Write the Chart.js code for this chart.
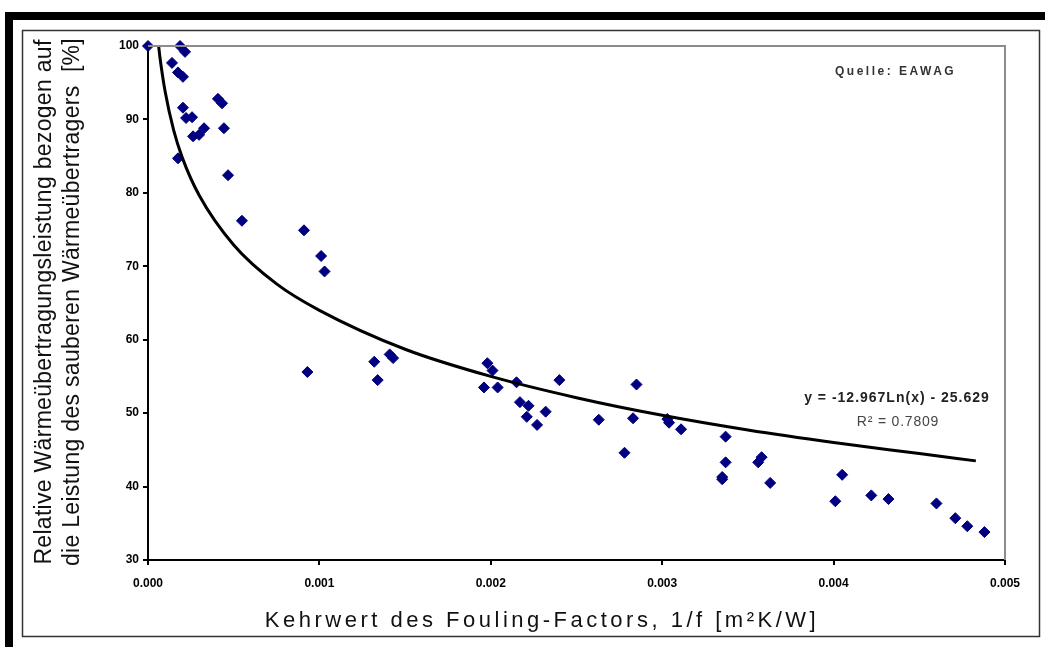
<!DOCTYPE html>
<html>
<head>
<meta charset="utf-8">
<title>Fouling-Factor</title>
<script src="https://cdn.jsdelivr.net/npm/chart.js@4/dist/chart.umd.min.js"></script>
<style>
  html, body { margin: 0; padding: 0; background: #fff; }
  #wrap { width: 1045px; height: 647px; }
</style>
</head>
<body>
<div id="wrap"><canvas id="chart" width="1045" height="647"></canvas></div>
<script>
// Measured points: 1/f [m2K/W] and relative performance [%]
const foulingX = [
  0, 0.00014, 0.000187, 0.000216, 0.000175, 0.000204, 0.000204, 0.000222, 0.000257, 0.000263,
  0.000298, 0.000327, 0.000175, 0.000408, 0.000432, 0.000443, 0.000467, 0.000548, 0.00091, 0.00101,
  0.00103, 0.00093, 0.00132, 0.00134, 0.00141, 0.00143, 0.00198, 0.00201, 0.00196, 0.00204,
  0.00215, 0.0024, 0.00217, 0.00222, 0.00232, 0.00221, 0.00227, 0.00263, 0.00283, 0.00285,
  0.00278, 0.00303, 0.00304, 0.00311, 0.00337, 0.00337, 0.00335, 0.00335, 0.00356, 0.00358,
  0.00363, 0.00401, 0.00405, 0.00422, 0.00432, 0.0046, 0.00471, 0.00478, 0.00488
];
const performance = [
  100, 97.7, 100, 99.2, 96.4, 95.8, 91.6, 90.2, 90.3, 87.7,
  87.9, 88.8, 84.7, 92.8, 92.2, 88.8, 82.4, 76.2, 74.9, 71.4,
  69.3, 55.6, 57.0, 54.5, 58.0, 57.5, 56.8, 55.8, 53.5, 53.5,
  54.2, 54.5, 51.5, 51.0, 50.2, 49.5, 48.4, 49.1, 49.3, 53.9,
  44.6, 49.2, 48.7, 47.8, 46.8, 43.3, 41.0, 41.3, 43.3, 44.0,
  40.5, 38.0, 41.6, 38.8, 38.3, 37.7, 35.7, 34.6, 33.8
];

// Trend line
const trendX = [0.000062, 0.00007, 0.0001, 0.00015, 0.0002, 0.0003, 0.0005, 0.00075, 0.001,
  0.0015, 0.002, 0.0025, 0.003, 0.0035, 0.004, 0.0045, 0.00483];
const trendY = [100, 98.4, 93.8, 88.5, 84.8, 79.6, 72.9, 67.6, 64.0,
  58.7, 55.0, 52.1, 49.7, 47.7, 46.0, 44.5, 43.5];

const xTicks = [0, 0.001, 0.002, 0.003, 0.004, 0.005];
const yTicks = [30, 40, 50, 60, 70, 80, 90, 100];

const xTitle = "Kehrwert des Fouling-Factors, 1/f [m\u00B2K/W]";
const yTitle = ["Relative W\u00E4rme\u00FCbertragungsleistung bezogen auf",
  "die Leistung des sauberen W\u00E4rme\u00FCbertragers  [%]"];
const sourceText = "Quelle: EAWAG";
const equationText = "y = -12.967Ln(x) - 25.629";
const r2Text = "R\u00B2 = 0.7809";

const tickFont = { family: "'Liberation Sans', Arial", size: 12, weight: "bold" };

// Frame, plot border and free texts
const decorations = {
  id: "decorations",
  beforeDraw(chart) {
    const ctx = chart.ctx;
    ctx.save();
    ctx.fillStyle = "#fff";
    ctx.fillRect(0, 0, chart.width, chart.height);
    ctx.fillStyle = "#000";
    ctx.fillRect(5, 12, 1040, 8);
    ctx.fillRect(5, 12, 8, 635);
    ctx.strokeStyle = "#333";
    ctx.lineWidth = 1.5;
    ctx.strokeRect(22.5, 30.5, 1017, 606);
    ctx.restore();
  },
  afterDraw(chart) {
    const ctx = chart.ctx;
    const a = chart.chartArea;
    ctx.save();
    // gray top and right edge of plot area
    ctx.strokeStyle = "#8c8c8c";
    ctx.lineWidth = 2;
    ctx.beginPath();
    ctx.moveTo(a.left, a.top);
    ctx.lineTo(a.right, a.top);
    ctx.lineTo(a.right, a.bottom);
    ctx.stroke();

    ctx.fillStyle = "#111";
    ctx.textBaseline = "middle";
    ctx.textAlign = "center";

    // axis titles
    ctx.font = "22px 'Liberation Sans', Arial";
    ctx.letterSpacing = "3.5px";
    ctx.fillText(xTitle, 542, 621);

    ctx.font = "23px 'Liberation Sans', Arial";
    ctx.letterSpacing = "0.3px";
    ctx.save();
    ctx.translate(45, 302);
    ctx.rotate(-Math.PI / 2);
    ctx.fillText(yTitle[0], 0, 0);
    ctx.restore();
    ctx.save();
    ctx.translate(73, 302);
    ctx.rotate(-Math.PI / 2);
    ctx.fillText(yTitle[1], 0, 0);
    ctx.restore();

    // source and regression labels
    ctx.fillStyle = "#333";
    ctx.font = "bold 12px 'Liberation Sans', Arial";
    ctx.letterSpacing = "2.5px";
    ctx.textAlign = "left";
    ctx.fillText(sourceText, 835, 72);

    ctx.textAlign = "center";
    ctx.fillStyle = "#222";
    ctx.font = "bold 14px 'Liberation Sans', Arial";
    ctx.letterSpacing = "1px";
    ctx.fillText(equationText, 897, 398);
    ctx.fillStyle = "#444";
    ctx.font = "14px 'Liberation Sans', Arial";
    ctx.letterSpacing = "0.8px";
    ctx.fillText(r2Text, 898, 422);
    ctx.restore();
  }
};

const ctx = document.getElementById("chart").getContext("2d");
new Chart(ctx, {
  type: "scatter",
  data: {
    datasets: [
      {
        label: "Messwerte",
        data: foulingX.map((x, i) => ({ x, y: performance[i] })),
        pointStyle: "rectRot",
        pointRadius: 5.5,
        backgroundColor: "#000080",
        borderColor: "#000080",
        borderWidth: 1,
        clip: false,
        order: 1
      },
      {
        label: "Trend",
        type: "line",
        data: trendX.map((x, i) => ({ x, y: trendY[i] })),
        borderColor: "#000",
        borderWidth: 3,
        pointRadius: 0,
        fill: false,
        cubicInterpolationMode: "monotone",
        order: 0
      }
    ]
  },
  options: {
    responsive: false,
    animation: false,
    layout: { padding: { left: 30, top: 46, right: 40, bottom: 0 } },
    plugins: { legend: { display: false }, tooltip: { enabled: false } },
    scales: {
      x: {
        type: "linear",
        min: 0,
        max: 0.005,
        afterBuildTicks: (s) => { s.ticks = xTicks.map(v => ({ value: v })); },
        afterFit: (s) => { s.height = 87; },
        ticks: { callback: v => v.toFixed(3), font: tickFont, color: "#000", padding: 11, maxRotation: 0 },
        grid: { display: true, drawOnChartArea: false, drawTicks: true, tickLength: 5, color: "#000", lineWidth: 2 },
        border: { display: true, color: "#000", width: 2 }
      },
      y: {
        type: "linear",
        min: 30,
        max: 100,
        afterBuildTicks: (s) => { s.ticks = yTicks.map(v => ({ value: v })); },
        afterFit: (s) => { s.width = 118; },
        ticks: { font: tickFont, color: "#000", padding: 4 },
        grid: { display: true, drawOnChartArea: false, drawTicks: true, tickLength: 5, color: "#000", lineWidth: 2 },
        border: { display: true, color: "#000", width: 2 }
      }
    }
  },
  plugins: [decorations]
});
</script>
</body>
</html>
